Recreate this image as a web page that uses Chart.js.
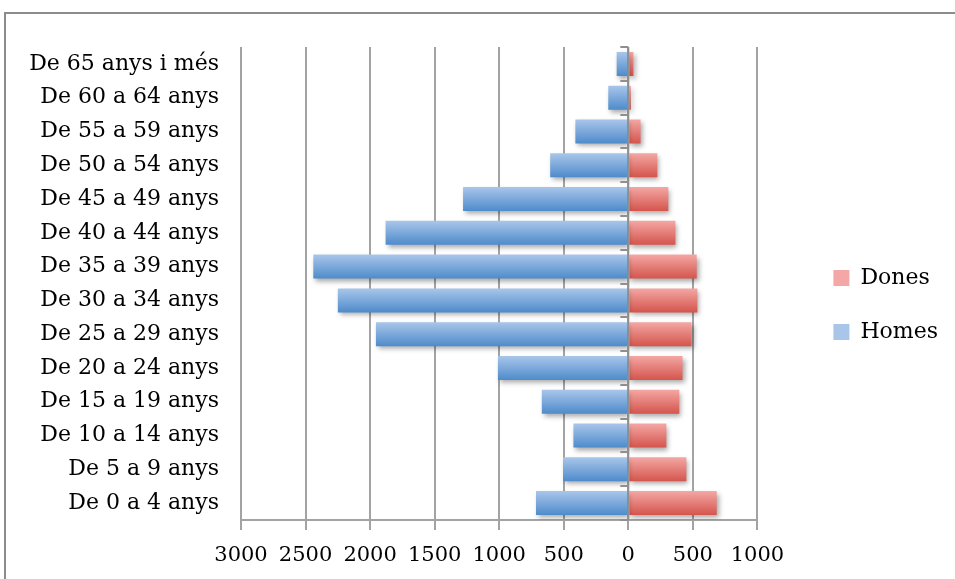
<!DOCTYPE html>
<html>
<head>
<meta charset="utf-8">
<script src="https://cdn.jsdelivr.net/npm/chart.js@4/dist/chart.umd.min.js"></script>
<style>
  html, body { margin: 0; padding: 0; background: #fff; overflow: hidden; }
  #wrap { position: relative; width: 955px; height: 579px; }
  #frame { position: absolute; left: 4px; top: 12px; width: 980px; height: 600px;
           border-left: 2px solid #8c8c8c; border-top: 2px solid #8c8c8c; }
  canvas { position: absolute; left: 0; top: 0; }
</style>
</head>
<body>
<div id="wrap">
  <div id="frame"></div>
  <canvas id="pyramid" width="955" height="579"></canvas>
</div>
<script>
// age groups, bottom to top
const ageGroups = [
  'De 0 a 4 anys', 'De 5 a 9 anys', 'De 10 a 14 anys', 'De 15 a 19 anys',
  'De 20 a 24 anys', 'De 25 a 29 anys', 'De 30 a 34 anys', 'De 35 a 39 anys',
  'De 40 a 44 anys', 'De 45 a 49 anys', 'De 50 a 54 anys', 'De 55 a 59 anys',
  'De 60 a 64 anys', 'De 65 anys i més'
];
// men drawn to the left, so kept as negative numbers
const homes = [-715, -505, -425, -670, -1010, -1955, -2250, -2440, -1880, -1280, -605, -410, -155, -90];
const dones = [685, 450, 295, 395, 420, 490, 535, 530, 365, 310, 225, 95, 20, 40];
const xTicks = { min: -3000, max: 1000, step: 500 };

const fontFamily = '"DejaVu Serif", serif';
const gridGray = '#a3a3a3';
const barPct = 0.71;

// vertical gradient per bar, lighter on top
function barGradient(light, dark, flat) {
  return function(context) {
    const chart = context.chart;
    if (context.type !== 'data' || !chart.chartArea) return flat;
    const y = chart.scales.y;
    const mid = y.getPixelForValue(context.dataIndex);
    const half = (chart.chartArea.height / ageGroups.length) * barPct / 2;
    const g = chart.ctx.createLinearGradient(0, mid - half, 0, mid + half);
    g.addColorStop(0, light);
    g.addColorStop(1, dark);
    return g;
  };
}

// soft shadow under bars, and the zero axis line with its small ticks on top
const pyramidDeco = {
  id: 'pyramidDeco',
  beforeDatasetsDraw(chart) {
    const ctx = chart.ctx;
    ctx.save();
    ctx.shadowColor = 'rgba(0,0,0,0.35)';
    ctx.shadowBlur = 5;
    ctx.shadowOffsetX = 2;
    ctx.shadowOffsetY = 3;
  },
  afterDatasetsDraw(chart) {
    const ctx = chart.ctx;
    ctx.restore();
    const x0 = chart.scales.x.getPixelForValue(0);
    const area = chart.chartArea;
    const step = area.height / ageGroups.length;
    ctx.save();
    ctx.strokeStyle = '#8f8f8f';
    ctx.lineWidth = 2;
    ctx.beginPath();
    ctx.moveTo(x0, area.top);
    ctx.lineTo(x0, area.bottom);
    for (let i = 0; i <= ageGroups.length; i++) {
      const yy = Math.round(area.top + i * step);
      ctx.moveTo(x0 - 8, yy);
      ctx.lineTo(x0, yy);
    }
    ctx.stroke();
    ctx.restore();
  }
};

// empty spacer axes, only used to place the plot and legend
const spacer = (pos, size) => ({
  type: 'linear',
  position: pos,
  display: true,
  grid: { display: false },
  border: { display: false },
  ticks: { display: false },
  afterFit(scale) {
    if (pos === 'top') scale.height = size; else scale.width = size;
  }
});

const ctx = document.getElementById('pyramid').getContext('2d');
const pyramidChart = new Chart(ctx, {
  type: 'bar',
  data: {
    labels: ageGroups,
    datasets: [{
      label: 'Homes',
      data: homes,
      backgroundColor: barGradient('#a9c6ea', '#4e8bcb', '#7ba7db'),
      borderWidth: 0,
      barPercentage: barPct,
      categoryPercentage: 1
    }, {
      label: 'Dones',
      data: dones,
      backgroundColor: barGradient('#f4a7a4', '#d4554d', '#e47b74'),
      borderWidth: 0,
      barPercentage: barPct,
      categoryPercentage: 1
    }]
  },
  options: {
    indexAxis: 'y',
    responsive: false,
    animation: false,
    layout: { padding: { top: 31, left: 0, right: 7, bottom: 0 } },
    scales: {
      x: {
        stacked: true,
        min: xTicks.min,
        max: xTicks.max,
        afterFit(scale) { scale.height = 59; },
        ticks: {
          stepSize: xTicks.step,
          color: '#000',
          padding: 13,
          maxRotation: 0,
          font: { family: fontFamily, size: 21 },
          callback: v => Math.abs(v)
        },
        grid: { color: gridGray, lineWidth: 2, tickLength: 10 },
        border: { color: gridGray, width: 2 }
      },
      y: {
        stacked: true,
        reverse: true,
        afterFit(scale) { scale.width = 241; },
        ticks: {
          color: '#000',
          padding: 14,
          font: { family: fontFamily, size: 22 }
        },
        grid: { display: false },
        border: { display: false }
      },
      topGap: spacer('top', 16),
      legendGap: spacer('right', 44)
    },
    plugins: {
      tooltip: { enabled: false },
      legend: {
        position: 'right',
        reverse: true,
        labels: {
          color: '#000',
          boxWidth: 16,
          boxHeight: 16,
          padding: 32,
          font: { family: fontFamily, size: 22 }
        }
      }
    }
  },
  plugins: [pyramidDeco]
});
</script>
</body>
</html>
